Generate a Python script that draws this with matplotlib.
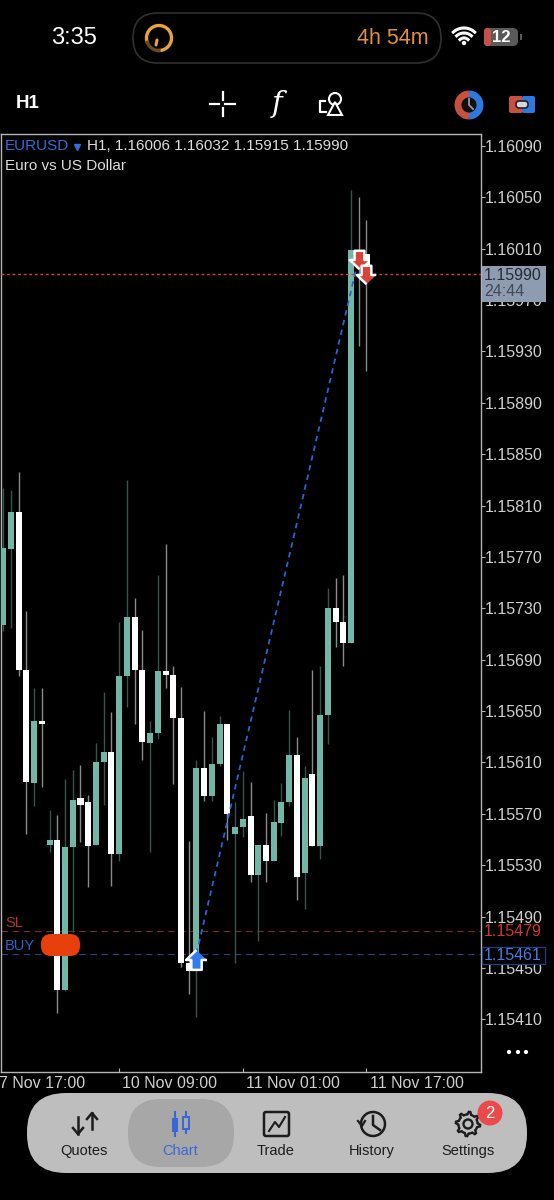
import numpy as np
import matplotlib
matplotlib.use('Agg')
import matplotlib.pyplot as plt
from matplotlib.patches import FancyBboxPatch, Circle, Rectangle, Polygon
from matplotlib.transforms import blended_transform_factory

plt.rcParams['font.family'] = ['Liberation Sans', 'DejaVu Sans']

# EURUSD H1 candles
opens = [1.15717, 1.15776, 1.15805, 1.15682, 1.15594, 1.15642, 1.15546, 1.15550,
         1.15433, 1.15544, 1.15582, 1.15579, 1.15546, 1.15610, 1.15618, 1.15539,
         1.15677, 1.15723, 1.15682, 1.15625, 1.15633, 1.15681, 1.15678, 1.15645,
         1.15454, 1.15448, 1.15606, 1.15584, 1.15609, 1.15640, 1.15554, 1.15560,
         1.15568, 1.15522, 1.15546, 1.15533, 1.15563, 1.15579, 1.15616, 1.15524,
         1.15601, 1.15545, 1.15647, 1.15730, 1.15719, 1.15703, 1.16009, 1.16006]
closes = [1.15777, 1.15805, 1.15682, 1.15595, 1.15642, 1.15640, 1.15550, 1.15433,
          1.15544, 1.15581, 1.15577, 1.15545, 1.15610, 1.15618, 1.15539, 1.15677,
          1.15723, 1.15682, 1.15626, 1.15633, 1.15681, 1.15678, 1.15645, 1.15454,
          1.15448, 1.15606, 1.15584, 1.15609, 1.15640, 1.15570, 1.15560, 1.15566,
          1.15522, 1.15546, 1.15533, 1.15564, 1.15579, 1.15616, 1.15521, 1.15598,
          1.15545, 1.15647, 1.15730, 1.15719, 1.15703, 1.16009, 1.16006, 1.15990]
highs = [1.15824, 1.15822, 1.15836, 1.15728, 1.15668, 1.15668, 1.15573, 1.15569,
         1.15597, 1.15604, 1.15608, 1.15585, 1.15625, 1.15665, 1.15649, 1.15719,
         1.15830, 1.15738, 1.15713, 1.15642, 1.15756, 1.15780, 1.15685, 1.15669,
         1.15549, 1.15612, 1.15650, 1.15630, 1.15646, 1.15640, 1.15579, 1.15603,
         1.15595, 1.15546, 1.15571, 1.15581, 1.15594, 1.15651, 1.15630, 1.15607,
         1.15682, 1.15685, 1.15746, 1.15754, 1.15756, 1.16056, 1.16050, 1.16032]
lows = [1.15712, 1.15715, 1.15677, 1.15554, 1.15576, 1.15591, 1.15540, 1.15415,
        1.15432, 1.15478, 1.15548, 1.15513, 1.15546, 1.15577, 1.15514, 1.15533,
        1.15653, 1.15640, 1.15612, 1.15540, 1.15628, 1.15668, 1.15593, 1.15451,
        1.15430, 1.15412, 1.15580, 1.15580, 1.15607, 1.15550, 1.15454, 1.15552,
        1.15517, 1.15471, 1.15517, 1.15533, 1.15553, 1.15576, 1.15503, 1.15496,
        1.15545, 1.15535, 1.15624, 1.15700, 1.15685, 1.15703, 1.15934, 1.15915]

price_ticks = [1.16090, 1.16050, 1.16010, 1.15970, 1.15930, 1.15890, 1.15850, 1.15810,
               1.15770, 1.15730, 1.15690, 1.15650, 1.15610, 1.15570, 1.15530, 1.15490,
               1.15450, 1.15410]
time_ticks = [-1, 15, 31, 47]
time_labels = ['7 Nov 17:00', '10 Nov 09:00', '11 Nov 01:00', '11 Nov 17:00']

last_price = 1.15990
sl_price = 1.15479
buy_price = 1.15461

# trade marks: bar index and price
buy_bar, buy_entry, buy_mark = 25, 1.15461, 1.15456
sell_bars = [46, 47]
sell_marks = [1.16002, 1.15990]
trade_bars = [25, 46, 47]
trade_prices = [1.15461, 1.16003, 1.15990]

GREEN = '#72b6a5'
GREEN_WICK = '#38544c'
WHITE_WICK = '#8a8a8a'
FRAME = '#b4b4b4'
LABEL = '#cfcfcf'

W, H = 554, 1200
fig = plt.figure(figsize=(W / 100, H / 100), dpi=100, facecolor='black')

# chart box is x 0-480, y 134-1072 in pixels
ax = fig.add_axes([0.5 / W, 1 - 1072 / H, 480 / W, (1072 - 134) / H], facecolor='black')
ax.set_xlim(-0.349, 61.75)
ax.set_ylim(1.15369, 1.160993)

x = np.arange(len(opens))
o = np.array(opens)
c = np.array(closes)
up = c >= o
colors = [GREEN if u else 'white' for u in up]
wicks = [GREEN_WICK if u else WHITE_WICK for u in up]

ax.vlines(x, lows, highs, colors=wicks, linewidth=1.0, zorder=2)
ax.bar(x, np.abs(c - o), bottom=np.minimum(o, c), width=0.78, color=colors, linewidth=0, zorder=3)

ax.axhline(sl_price, color='#7c2c24', linestyle=(0, (6, 4)), linewidth=0.8, zorder=1)
ax.axhline(buy_price, color='#2b4180', linestyle=(0, (6, 4)), linewidth=0.8, zorder=1)
ax.axhline(last_price, color='#d8443c', linestyle=(0, (2, 2)), linewidth=1.0, zorder=4)

ax.plot(trade_bars, trade_prices, color='#2a62d8', linestyle=(0, (3, 2.5)), linewidth=1.3, zorder=5)

up_arrow = [(0, 1), (-1, 0.05), (-0.5, 0.05), (-0.5, -0.9), (0.5, -0.9), (0.5, 0.05), (1, 0.05)]
down_arrow = [(px, -py) for px, py in up_arrow]
ax.plot([buy_bar], [buy_mark], marker=up_arrow, markersize=15, color='#2f7df0',
        markeredgecolor='white', markeredgewidth=1.8, linestyle='none', zorder=6)
ax.plot(sell_bars, sell_marks, marker=down_arrow, markersize=14, color='#d8443c',
        markeredgecolor='white', markeredgewidth=1.8, linestyle='none', zorder=6)

for side in ['left', 'right', 'top', 'bottom']:
    ax.spines[side].set_color(FRAME)
    ax.spines[side].set_linewidth(1.0)

ax.yaxis.tick_right()
ax.set_yticks(price_ticks)
ax.set_yticklabels(['%.5f' % p for p in price_ticks])
ax.tick_params(axis='y', colors=FRAME, labelcolor=LABEL, length=3, width=0.8, pad=0, labelsize=11.5)
ax.set_xticks(time_ticks[1:])
ax.set_xticklabels([])
ax.tick_params(axis='x', colors=FRAME, direction='in', length=3, width=0.8)

tr = blended_transform_factory(ax.transData, fig.transFigure)
for t, lab in zip(time_ticks, time_labels):
    ax.text(t + 0.4, 1 - 1083 / H, lab, transform=tr, color=LABEL, fontsize=11.5,
            ha='left', va='center', clip_on=False)

# everything around the chart, in screen pixels
ui = fig.add_axes([0, 0, 1, 1], facecolor='none')
ui.set_xlim(0, W)
ui.set_ylim(H, 0)
ui.axis('off')


def box(x0, y0, x1, y1, r, **kw):
    ui.add_patch(FancyBboxPatch((x0 + r, y0 + r), x1 - x0 - 2 * r, y1 - y0 - 2 * r,
                                boxstyle='round,pad=%g,rounding_size=%g' % (r, r), **kw))


def arc(cx, cy, r, a0, a1, **kw):
    t = np.radians(np.linspace(a0, a1, 50))
    ui.plot(cx + r * np.cos(t), cy - r * np.sin(t), **kw)


# price labels on the right
ui.add_patch(Rectangle((482, 266), 64, 36, facecolor='#8d9cb0', linewidth=0, zorder=3))
ui.text(484, 275, '%.5f' % last_price, color='#262b33', fontsize=11.5, va='center', zorder=4)
ui.text(484, 292, '24:44', color='#434a55', fontsize=11.5, va='center', zorder=4)
ui.text(484, 932, '%.5f' % sl_price, color='#d2352c', fontsize=11.5, va='center')
ui.add_patch(Rectangle((482, 947), 63, 17, facecolor='black', edgecolor='#1f3f86', linewidth=0.9, zorder=3))
ui.text(484, 955.5, '%.5f' % buy_price, color='#3f7fe8', fontsize=11.5, va='center', zorder=4)

# header text inside the chart
ui.text(5, 146, 'EURUSD', color='#2f6fd8', fontsize=11, va='center')
ui.plot([77], [147], marker='v', markersize=4, color='#2f6fd8')
ui.text(87, 146, 'H1, 1.16006 1.16032 1.15915 1.15990', color='#dcdcdc', fontsize=11, va='center')
ui.text(5, 166, 'Euro vs US Dollar', color='#dcdcdc', fontsize=11, va='center')

ui.text(5, 923, 'SL', color='#b5342b', fontsize=10.5, va='center')
ui.text(5, 946, 'BUY', color='#2f62c8', fontsize=10.5, va='center')
box(41, 934, 80, 956, 10, facecolor='#e8400c', linewidth=0, zorder=5)

# status bar
ui.text(74, 38, '3:35', color='white', fontsize=17, ha='center', va='center')
box(133, 13, 441, 63, 25, facecolor='black', edgecolor='#303030', linewidth=1.2)
arc(159, 38, 12.5, -90, 200, color='#e8a33d', linewidth=2.4)
arc(159, 38, 12.5, 200, 270, color='#6b4a1c', linewidth=2.4)
ui.plot([157, 156], [40, 45], color='#e8a33d', linewidth=2.2, solid_capstyle='round')
ui.text(429, 38, '4h 54m', color='#e0923f', fontsize=15.5, ha='right', va='center')
for r in [6, 11, 16]:
    arc(464, 44, r, 48, 132, color='white', linewidth=2.2)
ui.add_patch(Circle((464, 43), 2.2, color='white', linewidth=0))
box(484, 28, 518, 46, 5, facecolor='#5a5a5a', linewidth=0)
box(484, 28, 491, 46, 3, facecolor='#c8504a', linewidth=0)
ui.add_patch(Rectangle((520, 34), 1.5, 6, color='#5a5a5a', linewidth=0))
ui.text(501, 37.5, '12', color='white', fontsize=12, fontweight='bold', ha='center', va='center')

# toolbar
ui.text(28, 104, 'H1', color='white', fontsize=13.5, fontweight='bold', ha='center', va='center')
for seg in [([210, 219], [104, 104]), ([225, 235], [104, 104]), ([222.5, 222.5], [92, 100]), ([222.5, 222.5], [108, 116])]:
    ui.plot(seg[0], seg[1], color='white', linewidth=1.6)
ui.text(277, 104, 'f', color='white', fontsize=21, style='italic', ha='center', va='center', family='DejaVu Serif')
ui.add_patch(Circle((335, 99), 6, facecolor='none', edgecolor='white', linewidth=1.5))
ui.add_patch(Polygon([(335, 102), (328, 115), (342, 115)], closed=True, facecolor='black', edgecolor='white', linewidth=1.5))
ui.plot([325, 320, 320, 326], [101, 101, 112, 112], color='white', linewidth=1.6)

arc(469, 105, 11, 90, 270, color='#c8503f', linewidth=5, solid_capstyle='butt')
arc(469, 105, 11, -90, 90, color='#2f78e0', linewidth=5, solid_capstyle='butt')
ui.add_patch(Circle((469, 105), 7.5, color='#101010', linewidth=0))
ui.plot([469, 469, 473], [99, 105, 109], color='#9a9a9a', linewidth=1.3)

box(509, 96, 523, 113, 2, facecolor='#c8503f', linewidth=0)
box(522, 96, 535, 113, 2, facecolor='#2f78e0', linewidth=0)
box(516, 101, 528, 108, 3, facecolor='#d8d8d8', edgecolor='#222222', linewidth=1.2, zorder=3)

for px in [509, 518, 526]:
    ui.add_patch(Circle((px, 1052), 2.1, color='white', linewidth=0))

# bottom navigation
box(27, 1093, 527, 1173, 39, facecolor='#bebebe', linewidth=0)
box(128, 1099, 234, 1167, 33, facecolor='#a7a7a7', linewidth=0)
DARK = '#1c1c1c'
BLUE = '#3a66d8'
for lx, lab in zip([84, 180, 276, 372, 468], ['Quotes', 'Chart', 'Trade', 'History', 'Settings']):
    ui.text(lx, 1151, lab, color=BLUE if lab == 'Chart' else DARK, fontsize=10.5, ha='center', va='center')

# quotes icon
ui.plot([78, 78], [1117, 1134], color=DARK, linewidth=1.8)
ui.plot([73, 78, 83], [1128, 1134, 1128], color=DARK, linewidth=1.8)
ui.plot([92, 92], [1113, 1129], color=DARK, linewidth=1.8)
ui.plot([87, 92, 97], [1119, 1113, 1119], color=DARK, linewidth=1.8)

# chart icon
ui.plot([175, 175], [1112, 1136], color=BLUE, linewidth=1.5)
ui.add_patch(Rectangle((172, 1118), 6, 14, color=BLUE, linewidth=0))
ui.plot([186, 186], [1112, 1133], color=BLUE, linewidth=1.5)
ui.add_patch(Rectangle((183, 1117), 6, 12, facecolor='#a7a7a7', edgecolor=BLUE, linewidth=1.4, zorder=3))

# trade icon
box(264, 1112, 289, 1136, 2, facecolor='none', edgecolor=DARK, linewidth=1.8)
ui.plot([269, 275, 279, 285], [1131, 1122, 1127, 1117], color=DARK, linewidth=1.5)

# history icon
arc(373, 1124, 12, -200, 150, color=DARK, linewidth=1.8)
ui.plot([358, 362, 365], [1121, 1126, 1121], color=DARK, linewidth=1.6)
ui.plot([373, 373, 380], [1116, 1125, 1130], color=DARK, linewidth=1.8)

# settings icon
ang = np.radians(np.arange(0, 360, 7.5) + 3.75)
rad = np.array([12.2, 12.2, 9.6, 9.6, 9.6, 9.6] * 8)
ui.add_patch(Polygon(np.c_[468 + rad * np.cos(ang), 1124 + rad * np.sin(ang)], closed=True,
                     facecolor='none', edgecolor=DARK, linewidth=1.7))
ui.add_patch(Circle((468, 1124), 4.5, facecolor='none', edgecolor=DARK, linewidth=1.7))
ui.add_patch(Circle((490, 1113), 12.5, color='#ec4a4a', linewidth=0, zorder=3))
ui.text(490, 1113, '2', color='white', fontsize=12, ha='center', va='center', zorder=4)

fig.savefig('out.png', dpi=100, facecolor='black')
